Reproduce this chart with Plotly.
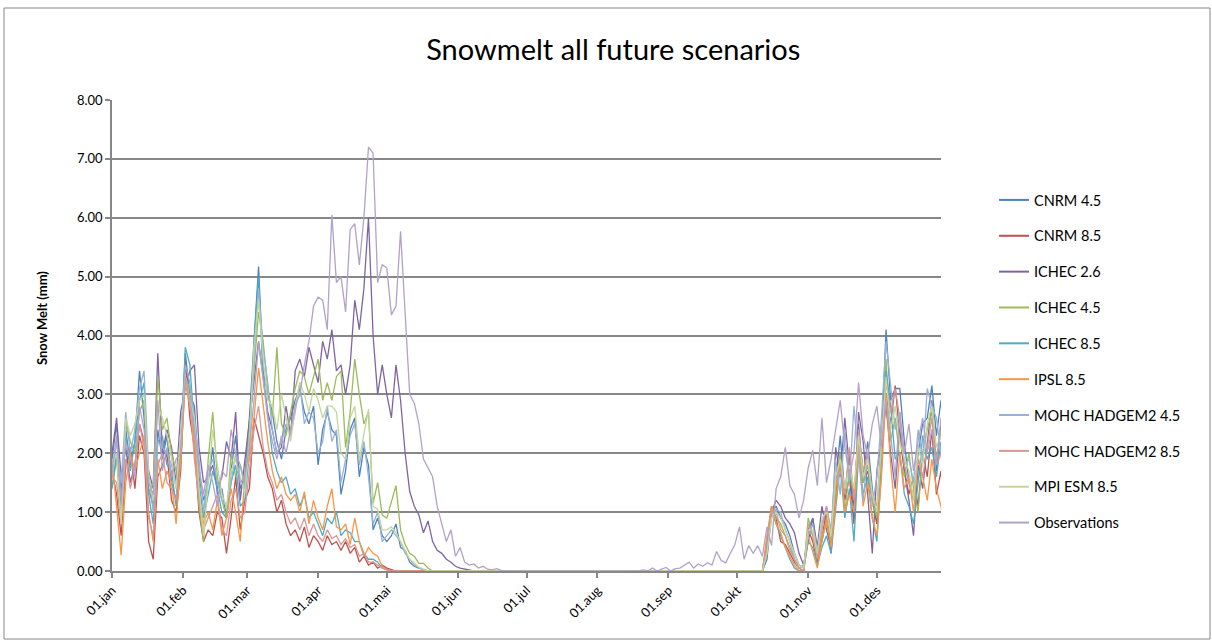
import plotly.graph_objects as go
import pandas as pd

# ---------------------------------------------------------------------------
# Data (mm snow melt), sampled every second day.
# day-of-year 0 = 1 January
spring_days = list(range(0, 181, 2))     # 1 Jan .. 30 Jun
autumn_days = list(range(230, 365, 2))   # 19 Aug .. 31 Dec

month_ticks = ["2021-01-01", "2021-02-01", "2021-03-01", "2021-04-01", "2021-05-01", "2021-06-01",
               "2021-07-01", "2021-08-01", "2021-09-01", "2021-10-01", "2021-11-01", "2021-12-01"]
month_labels = ["01.jan", "01.feb", "01.mar", "01.apr", "01.mai", "01.jun",
                "01.jul", "01.aug", "01.sep", "01.okt", "01.nov", "01.des"]

y_ticks = [0, 1, 2, 3, 4, 5, 6, 7, 8]

series_names = ["CNRM 4.5", "CNRM 8.5", "ICHEC 2.6", "ICHEC 4.5", "ICHEC 8.5", "IPSL 8.5",
                "MOHC HADGEM2 4.5", "MOHC HADGEM2 8.5", "MPI ESM 8.5", "Observations"]

cnrm45_spring = [
    1.9, 2.5, 1.3, 2.4, 1.8, 2.2, 3.4, 2.6, 1.4, 1.1,
    2.4, 1.9, 2.3, 1.5, 1.2, 2.1, 3.7, 3.0, 2.8, 1.6,
    1.2, 1.5, 2.1, 1.3, 1.4, 0.9, 1.7, 2.3, 1.4, 1.6,
    2.6, 3.8, 5.17, 3.4, 3.0, 2.7, 2.2, 1.9, 2.4, 2.6,
    2.9, 3.1, 2.7, 2.5, 2.8, 1.8, 2.4, 2.7, 2.4, 2.3,
    1.3, 1.7, 2.4, 2.6, 1.6, 2.1, 1.8, 0.7, 0.9, 0.6,
    0.5, 0.6, 0.8, 0.4, 0.35, 0.15, 0.08, 0.05, 0.03, 0.0,
    0, 0, 0, 0, 0, 0, 0, 0, 0, 0,
    0, 0, 0, 0, 0, 0, 0, 0, 0, 0,
    0]
cnrm45_autumn = [
    0, 0, 0, 0, 0, 0, 0, 0, 0, 0,
    0, 0, 0, 0, 0, 0, 0, 0, 0, 0,
    0, 0, 0, 0, 0, 0, 0, 0, 0.2, 1.0,
    1.1, 0.9, 0.8, 0.6, 0.3, 0.1, 0.05, 0.7, 0.9, 0.3,
    0.5, 0.9, 0.4, 1.5, 2.3, 1.3, 2.0, 1.1, 2.5, 1.6,
    2.2, 1.4, 0.8, 2.1, 4.1, 2.9, 3.1, 3.1, 2.2, 1.5,
    1.2, 2.0, 2.5, 2.6, 3.15, 2.3, 2.9, 1.8]

cnrm85_spring = [
    1.7, 1.3, 0.6, 1.8, 2.1, 1.4, 2.3, 2.0, 0.5, 0.2,
    1.6, 1.8, 2.0, 1.2, 1.0, 1.7, 3.6, 2.6, 2.1, 1.0,
    0.5, 0.7, 0.6, 1.0, 0.9, 0.3, 0.9, 1.6, 0.7, 1.2,
    1.4, 2.6, 2.3, 2.0, 1.6, 1.4, 1.0, 1.2, 0.8, 0.6,
    0.7, 0.5, 0.75, 0.4, 0.6, 0.5, 0.35, 0.6, 0.45, 0.5,
    0.35, 0.5, 0.3, 0.4, 0.15, 0.25, 0.1, 0.15, 0.05, 0.1,
    0.05, 0.02, 0, 0, 0, 0, 0, 0, 0, 0,
    0, 0, 0, 0, 0, 0, 0, 0, 0, 0,
    0, 0, 0, 0, 0, 0, 0, 0, 0, 0,
    0]
cnrm85_autumn = [
    0, 0, 0, 0, 0, 0, 0, 0, 0, 0,
    0, 0, 0, 0, 0, 0, 0, 0, 0, 0,
    0, 0, 0, 0, 0, 0, 0, 0, 0.5, 1.1,
    0.9, 0.5, 0.45, 0.3, 0.15, 0.05, 0, 0.7, 0.5, 0.15,
    0.6, 1.0, 0.3, 1.3, 2.0, 1.2, 1.6, 0.8, 2.3, 1.5,
    1.7, 1.2, 0.8, 2.0, 3.0, 2.5, 3.15, 2.3, 1.7, 1.3,
    1.6, 1.1, 2.0, 1.6, 2.4, 1.3, 1.7, 0.7]

ichec26_spring = [
    2.0, 2.6, 1.6, 2.1, 1.5, 1.8, 2.5, 2.2, 1.7, 1.4,
    3.7, 2.0, 2.4, 2.1, 1.5, 2.7, 3.1, 3.4, 3.5, 2.1,
    1.5, 1.6, 1.8, 1.4, 1.6, 2.2, 1.9, 2.7, 1.2, 1.9,
    2.5, 3.2, 3.9, 3.3, 2.7, 2.4, 2.0, 2.1, 2.8, 2.3,
    3.4, 3.6, 3.3, 3.8, 3.5, 3.2, 3.9, 3.6, 4.1, 3.4,
    3.5, 3.0, 3.5, 4.6, 4.1, 4.8, 6.0, 4.0, 3.0, 3.5,
    3.0, 2.6, 3.5, 2.9, 2.0, 1.35, 1.1, 0.95, 0.65, 0.85,
    0.5, 0.35, 0.3, 0.2, 0.15, 0.08, 0.05, 0.03, 0.02, 0.0,
    0, 0, 0, 0, 0, 0, 0, 0, 0, 0,
    0]
ichec26_autumn = [
    0, 0, 0, 0, 0, 0, 0, 0, 0, 0,
    0, 0, 0, 0, 0, 0, 0, 0, 0, 0,
    0, 0, 0, 0, 0, 0, 0, 0, 0.3, 1.0,
    1.2, 1.1, 0.9, 0.8, 0.65, 0.3, 0.1, 0.5, 0.9, 0.4,
    1.1, 0.7, 0.4, 2.1, 1.6, 2.6, 1.8, 0.9, 2.7, 2.2,
    1.3, 0.3, 1.7, 2.2, 2.8, 2.0, 1.4, 2.4, 1.7, 1.2,
    0.6, 1.8, 1.4, 2.2, 2.9, 1.7, 2.5, 1.3]

ichec45_spring = [
    1.4, 1.9, 0.9, 2.5, 2.2, 2.0, 2.7, 2.9, 1.3, 1.5,
    3.3, 2.4, 2.6, 2.0, 1.7, 1.8, 3.3, 3.1, 2.2, 1.1,
    0.5, 1.9, 2.7, 1.6, 1.2, 0.9, 2.0, 1.6, 1.8, 1.5,
    2.4, 3.4, 4.4, 3.9, 3.1, 2.6, 3.8, 2.5, 2.3, 2.7,
    3.1, 3.4, 3.3, 3.0, 3.3, 3.6, 2.9, 3.2, 2.9, 3.3,
    3.4, 2.1, 2.7, 3.6, 3.0, 2.5, 2.7, 1.15, 1.5, 0.95,
    0.9, 1.2, 1.45, 0.7, 0.45, 0.3, 0.25, 0.13, 0.13, 0.05,
    0, 0, 0, 0, 0, 0, 0, 0, 0, 0,
    0, 0, 0, 0, 0, 0, 0, 0, 0, 0,
    0]
ichec45_autumn = [
    0, 0, 0, 0, 0, 0, 0, 0, 0, 0,
    0, 0, 0, 0, 0, 0, 0, 0, 0, 0,
    0, 0, 0, 0, 0, 0, 0, 0, 0.4, 1.1,
    0.9, 0.8, 0.6, 0.4, 0.2, 0.05, 0.0, 0.9, 0.6, 0.2,
    0.6, 0.8, 0.5, 1.4, 2.0, 1.0, 1.7, 1.3, 2.2, 1.5,
    1.8, 1.2, 0.9, 1.9, 3.6, 2.2, 2.6, 1.9, 1.6, 2.0,
    1.4, 1.0, 2.0, 2.4, 2.7, 1.9, 2.4, 1.5]

ichec85_spring = [
    1.4, 2.0, 1.1, 2.3, 1.7, 2.2, 2.9, 3.2, 1.3, 0.8,
    2.2, 2.3, 1.8, 1.7, 1.1, 2.0, 3.8, 3.5, 2.4, 1.5,
    0.9, 1.3, 1.7, 1.4, 1.0, 0.9, 1.5, 1.8, 1.1, 1.2,
    2.0, 3.9, 5.0, 3.3, 2.6, 2.0, 1.7, 1.5, 1.6, 1.3,
    1.4, 1.1, 1.3, 0.9, 1.0, 0.8, 0.6, 0.9, 0.8, 1.0,
    0.6, 0.7, 0.65, 0.5, 0.5, 0.3, 0.2, 0.2, 0.15, 0.05,
    0.03, 0, 0, 0, 0, 0, 0, 0, 0, 0,
    0, 0, 0, 0, 0, 0, 0, 0, 0, 0,
    0, 0, 0, 0, 0, 0, 0, 0, 0, 0,
    0]
ichec85_autumn = [
    0, 0, 0, 0, 0, 0, 0, 0, 0, 0,
    0, 0, 0, 0, 0, 0, 0, 0, 0, 0,
    0, 0, 0, 0, 0, 0, 0, 0, 0.5, 1.05,
    0.8, 0.6, 0.4, 0.2, 0.05, 0, 0, 0.5, 0.4, 0.1,
    0.4, 0.6, 0.3, 1.0, 1.8, 0.9, 1.4, 0.5, 2.0, 1.3,
    1.6, 0.9, 0.5, 1.7, 3.4, 2.8, 1.9, 2.0, 1.3, 1.1,
    0.8, 1.5, 2.3, 1.9, 2.1, 1.6, 2.2, 1.0]

ipsl85_spring = [
    1.9, 1.1, 0.27, 1.5, 2.0, 1.7, 2.0, 2.3, 1.0, 0.5,
    1.9, 1.4, 1.7, 1.5, 0.8, 1.9, 3.2, 2.8, 2.2, 1.3,
    0.8, 1.0, 0.7, 1.2, 0.6, 0.9, 1.4, 1.0, 0.5, 1.6,
    1.9, 2.6, 3.45, 2.8, 2.2, 1.7, 1.4, 1.6, 1.3, 1.2,
    1.3, 1.0, 1.35, 0.8, 1.2, 0.9, 0.7, 1.1, 1.4, 0.75,
    0.7, 0.8, 0.45, 0.9, 0.5, 0.25, 0.4, 0.3, 0.25, 0.08,
    0.02, 0, 0, 0, 0, 0, 0, 0, 0, 0,
    0, 0, 0, 0, 0, 0, 0, 0, 0, 0,
    0, 0, 0, 0, 0, 0, 0, 0, 0, 0,
    0]
ipsl85_autumn = [
    0, 0, 0, 0, 0, 0, 0, 0, 0, 0,
    0, 0, 0, 0, 0, 0, 0, 0, 0, 0,
    0, 0, 0, 0, 0, 0, 0, 0, 0.6, 1.1,
    0.8, 0.65, 0.4, 0.25, 0.1, 0.0, 0.0, 0.6, 0.3, 0.05,
    0.5, 0.9, 0.4, 1.2, 1.9, 1.0, 1.3, 1.0, 2.1, 1.1,
    1.5, 0.9, 0.6, 1.6, 3.0, 1.8, 1.0, 2.0, 1.4, 1.6,
    1.0, 1.9, 1.6, 1.2, 1.9, 1.4, 1.1, 0.55]

mohc45_spring = [
    1.6, 2.2, 1.5, 2.7, 2.0, 2.4, 3.1, 3.4, 1.7, 1.0,
    2.2, 2.1, 2.0, 1.8, 1.4, 2.3, 3.5, 3.2, 2.5, 1.9,
    1.0, 1.7, 1.9, 1.5, 1.2, 1.1, 1.5, 2.0, 1.8, 1.4,
    2.3, 3.6, 4.8, 3.8, 3.2, 2.4, 2.0, 2.2, 2.5, 2.3,
    2.7, 3.2, 2.5, 2.7, 2.6, 2.0, 2.2, 2.8, 2.2, 2.4,
    1.5, 1.9, 2.3, 2.5, 1.8, 2.2, 1.6, 0.8, 1.0, 0.5,
    0.6, 0.7, 0.6, 0.5, 0.3, 0.2, 0.1, 0.06, 0.02, 0,
    0, 0, 0, 0, 0, 0, 0, 0, 0, 0,
    0, 0, 0, 0, 0, 0, 0, 0, 0, 0,
    0]
mohc45_autumn = [
    0, 0, 0, 0, 0, 0, 0, 0, 0, 0,
    0, 0, 0, 0, 0, 0, 0, 0, 0, 0,
    0, 0, 0, 0, 0, 0, 0, 0, 0.3, 0.9,
    1.05, 1.0, 0.7, 0.5, 0.2, 0.05, 0.1, 0.6, 0.8, 0.35,
    0.8, 1.1, 0.7, 1.9, 1.3, 2.4, 1.5, 2.8, 1.9, 1.2,
    2.0, 1.1, 1.6, 2.6, 3.9, 3.1, 2.4, 2.7, 1.8, 1.9,
    1.5, 2.4, 1.9, 3.1, 2.8, 2.6, 2.0, 2.2]

mohc85_spring = [
    1.6, 1.5, 0.8, 1.9, 1.4, 1.8, 2.5, 2.1, 0.9, 0.6,
    1.8, 2.0, 1.5, 1.4, 1.2, 2.2, 3.3, 2.9, 1.9, 1.2,
    0.7, 0.9, 1.1, 1.3, 0.7, 0.6, 1.2, 1.4, 0.9, 1.0,
    1.7, 2.4, 2.8, 2.1, 1.7, 1.5, 1.2, 1.3, 1.0, 0.8,
    0.9, 0.7, 0.9, 0.6, 0.8, 0.6, 0.5, 0.7, 0.55, 0.6,
    0.45, 0.55, 0.4, 0.45, 0.25, 0.3, 0.15, 0.15, 0.1, 0.05,
    0.02, 0, 0, 0, 0, 0, 0, 0, 0, 0,
    0, 0, 0, 0, 0, 0, 0, 0, 0, 0,
    0, 0, 0, 0, 0, 0, 0, 0, 0, 0,
    0]
mohc85_autumn = [
    0, 0, 0, 0, 0, 0, 0, 0, 0, 0,
    0, 0, 0, 0, 0, 0, 0, 0, 0, 0,
    0, 0, 0, 0, 0, 0, 0, 0, 0.4, 1.0,
    1.0, 0.7, 0.6, 0.35, 0.2, 0.05, 0, 0.8, 0.6, 0.2,
    0.7, 1.1, 0.6, 1.5, 1.7, 1.3, 2.1, 1.2, 2.4, 1.7,
    2.0, 1.3, 1.1, 2.3, 3.2, 2.7, 3.1, 2.6, 1.8, 1.5,
    1.3, 1.9, 1.6, 2.1, 2.6, 1.8, 2.0, 1.2]

mpi85_spring = [
    1.8, 2.0, 0.8, 2.6, 2.3, 2.5, 2.9, 3.0, 1.6, 1.2,
    2.8, 2.6, 2.3, 1.9, 1.4, 2.4, 3.3, 2.9, 2.6, 1.4,
    0.6, 1.5, 2.4, 1.8, 1.3, 1.1, 1.7, 1.9, 1.6, 1.3,
    2.2, 3.8, 4.6, 3.6, 2.9, 2.8, 2.4, 3.0, 2.6, 2.2,
    2.8, 3.2, 3.0, 2.7, 3.1, 2.9, 2.6, 2.8, 2.8, 2.7,
    2.0, 1.9, 2.6, 2.8, 1.9, 2.35, 2.75, 1.1, 1.05, 0.7,
    0.7, 0.75, 0.65, 0.5, 0.35, 0.2, 0.14, 0.06, 0.03, 0,
    0, 0, 0, 0, 0, 0, 0, 0, 0, 0,
    0, 0, 0, 0, 0, 0, 0, 0, 0, 0,
    0]
mpi85_autumn = [
    0, 0, 0, 0, 0, 0, 0, 0, 0, 0,
    0, 0, 0, 0, 0, 0, 0, 0, 0, 0,
    0, 0, 0, 0, 0, 0, 0, 0, 0.3, 0.9,
    1.0, 0.9, 0.7, 0.5, 0.3, 0.1, 0.05, 0.7, 0.7, 0.3,
    0.9, 1.0, 0.6, 1.6, 1.9, 1.4, 1.8, 1.4, 2.3, 1.6,
    1.9, 1.3, 1.0, 2.2, 3.3, 2.4, 2.8, 2.2, 1.9, 1.7,
    1.2, 2.1, 1.8, 2.5, 2.8, 2.1, 2.3, 1.4]

obs_spring = [
    1.7, 2.3, 1.2, 2.2, 1.9, 1.6, 2.8, 2.4, 1.5, 1.3,
    2.9, 1.7, 2.1, 1.6, 1.9, 2.0, 3.3, 2.9, 2.4, 1.7,
    1.3, 1.8, 1.5, 1.1, 1.7, 1.6, 2.4, 2.0, 1.5, 1.6,
    2.1, 2.9, 3.9, 3.2, 2.6, 2.2, 1.9, 2.3, 2.0, 2.4,
    2.8, 3.0, 3.5, 3.9, 4.5, 4.65, 4.6, 4.1, 6.05, 4.9,
    5.0, 4.4, 5.8, 5.9, 5.2, 6.0, 7.2, 7.1, 4.9, 5.2,
    5.15, 4.35, 4.5, 5.77, 4.3, 3.0, 2.85, 2.5, 1.9, 1.75,
    1.6, 1.1, 0.8, 0.5, 0.7, 0.25, 0.4, 0.15, 0.1, 0.12,
    0.05, 0.08, 0.03, 0.02, 0.04, 0.01, 0, 0, 0, 0,
    0]
obs_autumn = [
    0, 0.02, 0, 0.05, 0, 0.03, 0.06, 0, 0.04, 0.05,
    0.1, 0.15, 0.05, 0.12, 0.08, 0.14, 0.1, 0.33, 0.18, 0.14,
    0.3, 0.45, 0.75, 0.2, 0.43, 0.3, 0.43, 0.25, 0.75, 0.43,
    1.4, 1.6, 2.1, 1.45, 1.3, 0.9, 1.2, 1.75, 2.05, 1.45,
    2.6, 1.5, 1.9, 2.4, 2.9, 2.1, 1.6, 2.0, 3.2, 2.3,
    1.95, 2.5, 2.8, 2.1, 2.9, 2.3, 1.6, 2.7, 2.0, 2.5,
    1.7, 2.2, 2.6, 2.0, 2.4, 1.8, 2.6, 1.5]

series_colors = ["#4F81BD", "#C0504D", "#8064A2", "#9BBB59", "#4BACC6", "#F79646",
                 "#95B3D7", "#D99694", "#C3D69B", "#B3A2C7"]

series_values = [
    (cnrm45_spring, cnrm45_autumn),
    (cnrm85_spring, cnrm85_autumn),
    (ichec26_spring, ichec26_autumn),
    (ichec45_spring, ichec45_autumn),
    (ichec85_spring, ichec85_autumn),
    (ipsl85_spring, ipsl85_autumn),
    (mohc45_spring, mohc45_autumn),
    (mohc85_spring, mohc85_autumn),
    (mpi85_spring, mpi85_autumn),
    (obs_spring, obs_autumn),
]

# ---------------------------------------------------------------------------
for sp, au in series_values:
    assert len(sp) == len(spring_days), len(sp)
    assert len(au) == len(autumn_days), len(au)

base = pd.Timestamp("2021-01-01")
all_days = spring_days + autumn_days
x_dates = [base + pd.Timedelta(days=d) for d in all_days]

FONT = "Lato, 'Open Sans', sans-serif"
GRID = "#878787"

fig = go.Figure()
for name, color, (sp, au) in zip(series_names, series_colors, series_values):
    fig.add_trace(go.Scatter(
        x=x_dates, y=sp + au, mode="lines", name=name, legendgroup=name,
        showlegend=False, line=dict(color=color, width=1.3),
    ))
# legend entries (no data, just the key)
for name, color in zip(series_names, series_colors):
    fig.add_trace(go.Scatter(
        x=[None], y=[None], mode="lines", name=name, legendgroup=name,
        showlegend=True, line=dict(color=color, width=2),
    ))

# plot area: x 112..941, y 100..571 (pixels)
L, R, T, B = 112, 941, 100, 571
W, H = 1212, 641
pw, ph = R - L, B - T


def px_x(x):
    return (x - L) / pw


def px_y(y):
    return (B - y) / ph


fig.update_layout(
    width=W, height=H,
    margin=dict(l=L, r=W - R, t=T, b=H - B, pad=0, autoexpand=False),
    paper_bgcolor="white", plot_bgcolor="white",
    font=dict(family=FONT, color="#000000", size=13),
    title=dict(text="Snowmelt all future scenarios", x=0.506, xref="container", xanchor="center",
               y=1 - 50 / H, yref="container", yanchor="middle",
               font=dict(family=FONT, size=29, color="#000000")),
    showlegend=True,
    legend=dict(x=px_x(994), y=px_y(184), xanchor="left", yanchor="top",
                font=dict(family=FONT, size=14.5, color="#000000"),
                tracegroupgap=14, bgcolor="rgba(0,0,0,0)", itemwidth=30),
    xaxis=dict(type="date", range=["2021-01-01", "2021-12-29"],
               tickmode="array", tickvals=month_ticks, ticktext=month_labels,
               tickangle=-45, showgrid=False, zeroline=False,
               showline=True, linecolor=GRID, linewidth=1.5,
               ticks="outside", tickcolor=GRID, ticklen=5, tickwidth=1.5,
               tickfont=dict(family=FONT, size=13, color="#000000")),
    yaxis=dict(range=[0, 8], tickmode="array", tickvals=y_ticks, tickformat=".2f",
               showgrid=True, gridcolor=GRID, gridwidth=1.5, zeroline=False,
               showline=True, linecolor=GRID, linewidth=1.5,
               ticks="outside", tickcolor=GRID, ticklen=5, tickwidth=1.5,
               tickfont=dict(family=FONT, size=13, color="#000000")),
    annotations=[dict(text="<b>Snow Melt (mm)</b>", x=px_x(42), y=px_y(318), xref="paper", yref="paper",
                      textangle=-90, showarrow=False, xanchor="center", yanchor="middle",
                      font=dict(family=FONT, size=13, color="#000000"))],
    shapes=[dict(type="rect", xref="paper", yref="paper",
                 x0=px_x(4), x1=px_x(1210), y0=px_y(639), y1=px_y(8),
                 line=dict(color="#868686", width=1), fillcolor="rgba(0,0,0,0)", layer="below")],
)

fig.write_html("out.html", config={"displayModeBar": False},
               post_script="document.body.style.margin='0px';")
